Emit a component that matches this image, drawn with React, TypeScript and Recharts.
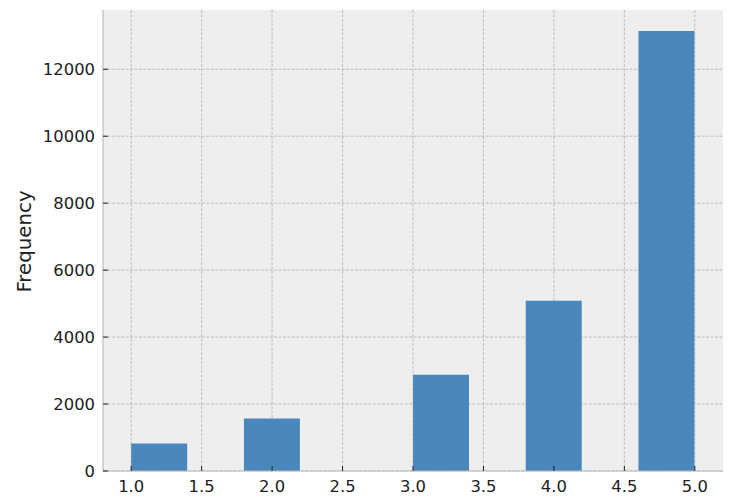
import React from 'react';
import { BarChart, Bar, XAxis, YAxis, CartesianGrid } from 'recharts';

const binCenters = [1.2, 1.6, 2.0, 2.4, 2.8, 3.2, 3.6, 4.0, 4.4, 4.8];
const counts = [822, 0, 1571, 0, 0, 2875, 0, 5085, 0, 13140];
const xTicks = [1.0, 1.5, 2.0, 2.5, 3.0, 3.5, 4.0, 4.5, 5.0];
const yTicks = [0, 2000, 4000, 6000, 8000, 10000, 12000];

const data = binCenters.map((c, i) => ({ x: c, count: counts[i] }));

const FONT = '"DejaVu Sans", sans-serif';
const tickStyle = { fontFamily: FONT, fontSize: 16.4, fill: '#222222' };

const YLabel = (props: any) => {
  const vb = props.viewBox || {};
  const cx = vb.x + 24;
  const cy = vb.y + vb.height / 2 + 1;
  return (
    <text
      x={cx}
      y={cy}
      transform={`rotate(-90, ${cx}, ${cy})`}
      textAnchor="middle"
      dominantBaseline="central"
      style={{ fontFamily: FONT, fontSize: 19.8, fill: '#222222' }}
    >
      Frequency
    </text>
  );
};

export default function App() {
  return (
    <div style={{ position: 'absolute', left: 0, top: 0, width: 735, height: 504, background: '#fff' }}>
      <BarChart
        width={735}
        height={504}
        data={data}
        margin={{ top: 10, right: 12, left: 0, bottom: 0 }}
        barCategoryGap={0}
        barGap={0}
      >
        <CartesianGrid fill="#eeeeee" horizontal={false} vertical={false} />
        <XAxis
          dataKey="x"
          type="number"
          domain={[0.8, 5.2]}
          ticks={xTicks}
          tickFormatter={(v: number) => v.toFixed(1)}
          height={33}
          tickSize={-5}
          tickMargin={14}
          tick={tickStyle}
          axisLine={{ stroke: '#bcbcbc', strokeWidth: 1.2 }}
          tickLine={{ stroke: '#222', strokeWidth: 1 }}
          allowDataOverflow
        />
        <XAxis
          xAxisId="top"
          orientation="top"
          dataKey="x"
          type="number"
          domain={[0.8, 5.2]}
          height={0}
          tick={false}
          tickLine={false}
          axisLine={{ stroke: '#bcbcbc', strokeWidth: 1.2 }}
        />
        <YAxis
          type="number"
          domain={[0, 13770]}
          ticks={yTicks}
          width={103}
          tickSize={-5}
          tickMargin={13}
          tick={tickStyle}
          axisLine={{ stroke: '#bcbcbc', strokeWidth: 1.2 }}
          tickLine={{ stroke: '#222', strokeWidth: 1 }}
          allowDataOverflow
          label={<YLabel />}
        />
        <YAxis
          yAxisId="right"
          orientation="right"
          type="number"
          domain={[0, 13770]}
          width={0}
          tick={false}
          tickLine={false}
          axisLine={{ stroke: '#bcbcbc', strokeWidth: 1.2 }}
        />
        <Bar dataKey="count" fill="#4a88bb" isAnimationActive={false} />
        <CartesianGrid
          fill="none"
          stroke="#b2b2b2"
          strokeWidth={0.8}
          strokeDasharray="3 1.5"
          horizontalValues={yTicks}
          verticalValues={xTicks}
        />
      </BarChart>
    </div>
  );
}
